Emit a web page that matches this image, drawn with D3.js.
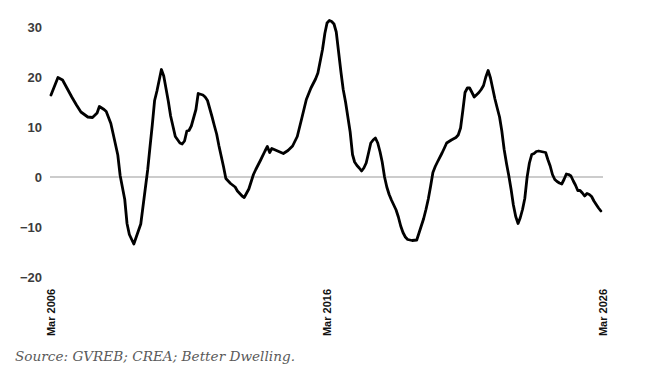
<!DOCTYPE html>
<html>
<head>
<meta charset="utf-8">
<script src="https://cdn.jsdelivr.net/npm/d3@7"></script>
<style>
  html, body { margin: 0; padding: 0; background: #fff; }
  svg { display: block; }
</style>
</head>
<body>
<svg id="chart" width="660" height="376"></svg>
<script>
// Monthly readings (YYYY-MM) and the plotted value for each
const dates = [
  "2006-03","2006-06","2006-08","2006-10","2006-12","2007-02","2007-04","2007-07","2007-09","2007-11",
  "2007-12","2008-02","2008-03","2008-05","2008-06","2008-08","2008-09","2008-11","2008-12","2009-01",
  "2009-03","2009-06","2009-09","2009-10","2009-11","2009-12","2010-01","2010-03","2010-04","2010-06",
  "2010-07","2010-09","2010-11","2010-12","2011-01","2011-02","2011-03","2011-04","2011-06","2011-07",
  "2011-09","2011-10","2011-11","2012-01","2012-02","2012-03","2012-04","2012-06","2012-07","2012-09",
  "2012-11","2012-12","2013-02","2013-03","2013-05","2013-07","2013-08","2013-10","2013-12","2014-01",
  "2014-02","2014-03","2014-04","2014-06","2014-08","2014-10","2014-12","2015-02","2015-04","2015-06",
  "2015-08","2015-10","2015-11","2016-01","2016-02","2016-03","2016-04","2016-05","2016-06","2016-07",
  "2016-08","2016-09","2016-10","2016-11","2017-01","2017-02","2017-03","2017-04","2017-05","2017-06",
  "2017-07","2017-08","2017-09","2017-10","2017-11","2017-12","2018-01","2018-02","2018-03","2018-04",
  "2018-05","2018-06","2018-07","2018-09","2018-10","2018-11","2018-12","2019-01","2019-02","2019-04",
  "2019-06","2019-07","2019-09","2019-10","2019-11","2019-12","2020-01","2020-02","2020-03","2020-05",
  "2020-06","2020-07","2020-09","2020-11","2020-12","2021-01","2021-02","2021-03","2021-04","2021-05",
  "2021-06","2021-07","2021-09","2021-10","2021-11","2021-12","2022-01","2022-02","2022-03","2022-04",
  "2022-05","2022-06","2022-07","2022-08","2022-09","2022-10","2022-11","2022-12","2023-01","2023-02",
  "2023-03","2023-04","2023-05","2023-06","2023-07","2023-08","2023-09","2023-10","2023-11","2023-12",
  "2024-02","2024-03","2024-04","2024-05","2024-06","2024-07","2024-08","2024-09","2024-10","2024-11",
  "2024-12","2025-01","2025-02","2025-03","2025-04","2025-05","2025-06","2025-07","2025-08","2025-09",
  "2025-10","2025-11","2025-12","2026-01","2026-02"
];
const values = [
  16.4, 19.9, 19.4, 17.7, 16.0, 14.4, 13.0, 12.0, 11.9, 12.8,
  14.1, 13.5, 13.1, 10.7, 8.6, 4.4, 0.3, -4.5, -9.3, -11.5,
  -13.4, -9.4, 1.5, 6.0, 10.5, 15.3, 17.2, 21.5, 20.2, 15.1,
  12.2, 8.1, 6.8, 6.6, 7.2, 9.2, 9.3, 10.2, 13.5, 16.7,
  16.4, 16.0, 15.3, 12.0, 10.2, 8.6, 6.2, 2.0, -0.3, -1.3,
  -2.0, -2.8, -3.8, -4.1, -2.4, 0.5, 1.5, 3.3, 5.2, 6.1,
  4.9, 5.7, 5.5, 5.1, 4.7, 5.3, 6.2, 8.1, 11.7, 15.5,
  17.8, 19.6, 20.8, 25.5, 28.7, 30.8, 31.3, 31.1, 30.6, 29.0,
  25.0, 21.0, 17.5, 15.0, 9.0, 4.5, 3.0, 2.3, 1.8, 1.2,
  1.8, 2.8, 4.8, 6.8, 7.4, 7.8, 6.8, 5.0, 3.0, 0.0,
  -2.0, -3.5, -4.6, -6.6, -8.0, -9.8, -11.1, -12.0, -12.5, -12.7,
  -12.6, -11.2, -8.3, -6.5, -4.4, -1.9, 0.9, 2.1, 3.0, 4.8,
  5.8, 6.8, 7.4, 7.9, 8.4, 9.8, 13.4, 16.9, 17.8, 17.8,
  16.9, 16.0, 16.9, 17.5, 18.3, 20.0, 21.3, 19.8, 17.8, 15.6,
  13.8, 12.0, 9.2, 5.5, 2.7, 0.3, -2.5, -5.6, -7.9, -9.3,
  -8.2, -6.5, -4.3, 0.0, 2.8, 4.5, 4.7, 5.1, 5.2, 5.1,
  4.9, 3.5, 2.2, 0.5, -0.5, -0.9, -1.2, -1.4, -0.5, 0.6,
  0.5, 0.2, -0.8, -1.6, -2.7, -2.7, -3.2, -3.8, -3.3, -3.5,
  -3.9, -4.8, -5.5, -6.2, -6.8
];
const yTicks = [-20, -10, 0, 10, 20, 30];
const xTicks = ["2006-03", "2016-03", "2026-03"];
const sourceNote = "Source: GVREB; CREA; Better Dwelling.";

const parseMonth = d3.timeParse("%Y-%m");
const data = dates.map((d, i) => ({ date: parseMonth(d), value: values[i] }));

const svg = d3.select("#chart");

// Scales
const xScale = d3.scaleTime()
  .domain([parseMonth("2006-03"), parseMonth("2026-03")])
  .range([51, 603]);

const yScale = d3.scaleLinear()
  .domain([-20, 30])
  .range([277, 27]);

// Y axis labels (no line, no ticks)
const yAxis = svg.append("g")
  .attr("transform", "translate(51,0)")
  .call(d3.axisLeft(yScale).tickValues(yTicks).tickSize(0).tickPadding(9).tickFormat(d3.format("d")));
yAxis.select(".domain").remove();
yAxis.selectAll("text")
  .attr("font-family", "Liberation Sans, Arial, sans-serif")
  .attr("font-size", "13px")
  .attr("font-weight", "bold")
  .attr("fill", "#3c3c3c");

// X axis labels, rotated
const xAxis = svg.append("g")
  .attr("transform", "translate(0,289)")
  .call(d3.axisBottom(xScale).tickValues(xTicks.map(parseMonth)).tickSize(0).tickFormat(d3.timeFormat("%b %Y")));
xAxis.select(".domain").remove();
xAxis.selectAll("text")
  .attr("font-family", "Liberation Sans, Arial, sans-serif")
  .attr("font-size", "11px")
  .attr("font-weight", "bold")
  .attr("fill", "#111")
  .attr("text-anchor", "end")
  .attr("transform", "rotate(-90)")
  .attr("x", 0)
  .attr("y", 0)
  .attr("dx", 0)
  .attr("dy", "0.35em");

// Zero line
svg.append("line")
  .attr("x1", 50)
  .attr("x2", 603)
  .attr("y1", yScale(0))
  .attr("y2", yScale(0))
  .attr("stroke", "#9a9a9a")
  .attr("stroke-width", 1.2);

// The series
const line = d3.line()
  .x(d => xScale(d.date))
  .y(d => yScale(d.value));

svg.append("path")
  .datum(data)
  .attr("d", line)
  .attr("fill", "none")
  .attr("stroke", "#000")
  .attr("stroke-width", 2.8)
  .attr("stroke-linejoin", "round")
  .attr("stroke-linecap", "round");

// Source note
svg.append("text")
  .attr("x", 15)
  .attr("y", 361)
  .attr("font-family", "DejaVu Serif, Liberation Serif, serif")
  .attr("font-style", "italic")
  .attr("font-size", "13px")
  .attr("fill", "#5a5a5a")
  .attr("textLength", 280)
  .attr("lengthAdjust", "spacingAndGlyphs")
  .text(sourceNote);
</script>
</body>
</html>
